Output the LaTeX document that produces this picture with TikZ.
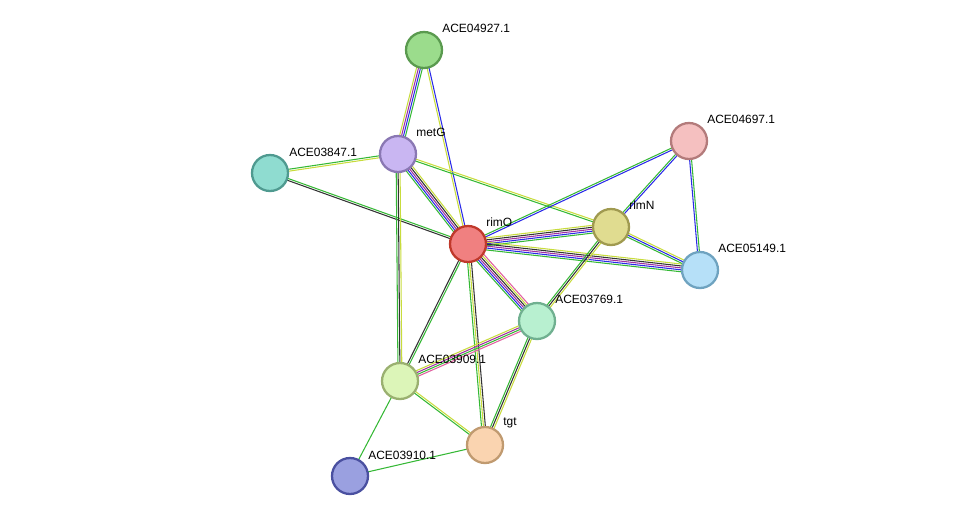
\documentclass[tikz,border=0pt]{standalone}
\usepackage{fontspec}
\setmainfont{Liberation Sans}
\usetikzlibrary{calc}
\definecolor{ctm}{HTML}{C8DC3C}
\definecolor{cgr}{HTML}{35B835}
\definecolor{cbl}{HTML}{2A2AE8}
\definecolor{cpu}{HTML}{A030A0}
\definecolor{cbk}{HTML}{333333}
\definecolor{cpk}{HTML}{E060A0}
\tikzset{
  prot/.style={circle, minimum size=36*0.02cm, inner sep=0pt, line width=1.3pt},
  lbl/.style={anchor=west, font=\fontsize{6.8}{8}\selectfont, inner sep=0pt},
}
% edge of n parallel coloured lines
\newcommand{\edge}[4]{%
  \foreach \c [count=\i] in {#4}{%
    \pgfmathsetmacro\off{(\i-(#3+1)/2)*1.1}
    \draw[\c, line width=0.6pt] ($(#1)!\off pt!90:(#2)$) -- ($(#2)!\off pt!-90:(#1)$);
  }}
\begin{document}
\begin{tikzpicture}[x=0.02cm, y=-0.02cm]
    \useasboundingbox (0,0) rectangle (975,522);
    % Centres
    \coordinate (a4927) at (424,50);
    \coordinate (metG) at (398,154);
    \coordinate (a3847) at (270,173);
    \coordinate (rimO) at (468,244);
    \coordinate (a4697) at (689,141);
    \coordinate (rlmN) at (611,227);
    \coordinate (a5149) at (700,270);
    \coordinate (a3769) at (537,321);
    \coordinate (a3909) at (400,381);
    \coordinate (tgt) at (485,445);
    \coordinate (a3910) at (350,476);

    % Edges
    \edge{rimO}{a4927}{2}{cbl,ctm}
    \edge{metG}{a4927}{4}{cgr,cbl,cpu,ctm}
    \edge{metG}{a3847}{2}{cgr,ctm}
    \edge{a3847}{rimO}{2}{cbk,cgr}
    \edge{metG}{rimO}{5}{cgr,cbl,cpu,cbk,ctm}
    \edge{metG}{rlmN}{2}{cgr,ctm}
    \edge{metG}{a3909}{3}{cgr,cbk,ctm}
    \edge{rimO}{rlmN}{5}{cgr,cbl,cpu,cbk,ctm}
    \edge{rimO}{a5149}{5}{cgr,cbl,cpu,cbk,ctm}
    \edge{rimO}{a4697}{2}{cbl,cgr}
    \edge{a4697}{rlmN}{2}{cgr,cbl}
    \edge{a4697}{a5149}{2}{cbl,cgr}
    \edge{rlmN}{a5149}{3}{cgr,cbl,ctm}
    \edge{rlmN}{a3769}{3}{cgr,cbk,ctm}
    \edge{rimO}{a3769}{6}{cgr,cbl,cpu,cbk,ctm,cpk}
    \edge{rimO}{a3909}{2}{cbk,cgr}
    \edge{rimO}{tgt}{3}{cgr,ctm,cbk}
    \edge{a3769}{a3909}{4}{ctm,cpu,cgr,cpk}
    \edge{a3769}{tgt}{3}{cgr,cbk,ctm}
    \edge{a3909}{tgt}{2}{cgr,ctm}
    \edge{a3909}{a3910}{1}{cgr}
    \edge{a3910}{tgt}{1}{cgr}

    % Proteins
    \node[prot, fill={rgb,255:red,155;green,220;blue,140}, draw={rgb,255:red,90;green,154;blue,79}] (n4927) at (a4927) {};
    \node[prot, fill={rgb,255:red,201;green,182;blue,242}, draw={rgb,255:red,138;green,120;blue,179}] (nmetG) at (metG) {};
    \node[prot, fill={rgb,255:red,143;green,220;blue,208}, draw={rgb,255:red,79;green,154;blue,144}] (n3847) at (a3847) {};
    \node[prot, fill={rgb,255:red,240;green,128;blue,128}, draw={rgb,255:red,192;green,57;blue,43}] (nrimO) at (rimO) {};
    \node[prot, fill={rgb,255:red,245;green,192;blue,192}, draw={rgb,255:red,179;green,123;blue,123}] (n4697) at (a4697) {};
    \node[prot, fill={rgb,255:red,224;green,220;blue,144}, draw={rgb,255:red,160;green,154;blue,80}] (nrlmN) at (rlmN) {};
    \node[prot, fill={rgb,255:red,182;green,224;blue,248}, draw={rgb,255:red,111;green,163;blue,192}] (n5149) at (a5149) {};
    \node[prot, fill={rgb,255:red,184;green,240;blue,208}, draw={rgb,255:red,112;green,176;blue,144}] (n3769) at (a3769) {};
    \node[prot, fill={rgb,255:red,220;green,245;blue,184}, draw={rgb,255:red,154;green,176;blue,112}] (n3909) at (a3909) {};
    \node[prot, fill={rgb,255:red,250;green,212;blue,176}, draw={rgb,255:red,192;green,154;blue,112}] (ntgt) at (tgt) {};
    \node[prot, fill={rgb,255:red,154;green,160;blue,224}, draw={rgb,255:red,74;green,80;blue,160}] (n3910) at (a3910) {};

    % Labels
    \node[lbl] (l4927) at ($(a4927)+(18,-22)$) {ACE04927.1};
    \node[lbl] (lmetG) at ($(metG)+(18,-22)$) {metG};
    \node[lbl] (l3847) at ($(a3847)+(19,-21)$) {ACE03847.1};
    \node[lbl] (lrimO) at ($(rimO)+(18,-22)$) {rimO};
    \node[lbl] (l4697) at ($(a4697)+(18,-22)$) {ACE04697.1};
    \node[lbl] (lrlmN) at ($(rlmN)+(18,-22)$) {rlmN};
    \node[lbl] (l5149) at ($(a5149)+(18,-22)$) {ACE05149.1};
    \node[lbl] (l3769) at ($(a3769)+(18,-22)$) {ACE03769.1};
    \node[lbl] (l3909) at ($(a3909)+(18,-22)$) {ACE03909.1};
    \node[lbl] (ltgt) at ($(tgt)+(18,-22)$) {tgt};
    \node[lbl] (l3910) at ($(a3910)+(18,-21)$) {ACE03910.1};
\end{tikzpicture}
\end{document}
